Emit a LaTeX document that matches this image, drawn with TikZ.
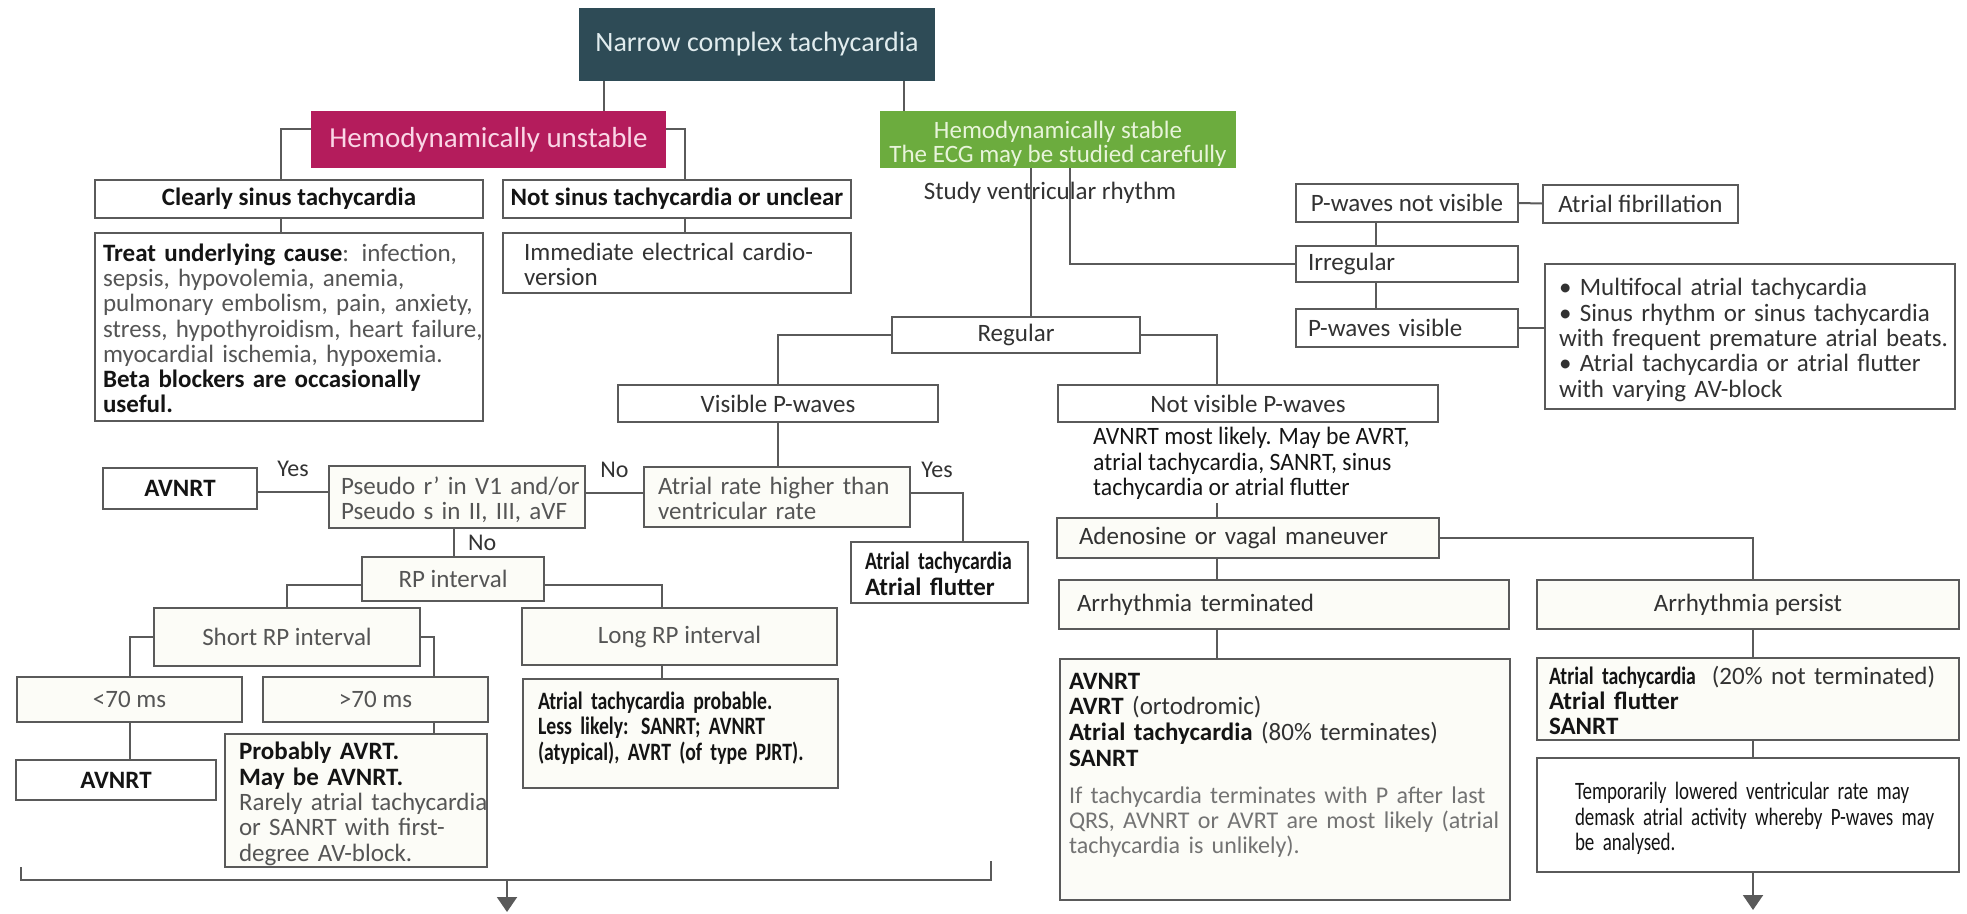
\documentclass[tikz,border=0pt]{standalone}
\usepackage{fontspec}
\setmainfont{Carlito}
\newfontfamily\narrowfont[FakeStretch=0.79]{Carlito}
\newfontfamily\tightfont[FakeStretch=0.76]{Carlito}
\newfontfamily\slimfont[FakeStretch=0.95]{Carlito}
\usetikzlibrary{arrows.meta, positioning, calc}

\definecolor{linegray}{RGB}{90,90,90}
\definecolor{txtblack}{RGB}{20,20,20}
\definecolor{txtdark}{RGB}{50,50,50}
\definecolor{txtgray}{RGB}{85,85,85}
\definecolor{txtlight}{RGB}{115,115,115}
\definecolor{cream}{RGB}{252,252,247}
\definecolor{titlefill}{RGB}{46,75,86}
\definecolor{titletext}{RGB}{225,236,238}
\definecolor{unstfill}{RGB}{180,28,92}
\definecolor{unsttext}{RGB}{250,214,230}
\definecolor{stabfill}{RGB}{108,172,62}
\definecolor{stabtext}{RGB}{232,244,218}

% lines of a box, kept as they are printed
\newcommand{\rows}[1]{\raisebox{-5pt}[\height][\depth]{\begin{tabular}[t]{@{}l@{}}#1\end{tabular}}}
\newcommand{\crows}[1]{\raisebox{-6pt}[\height][\depth]{\begin{tabular}{@{}c@{}}#1\end{tabular}}}
\newcommand{\hl}[1]{\textbf{\color{txtblack}#1}}
\newcommand{\soft}{\color{txtlight}\fontsize{24}{25.3}\selectfont}

\tikzset{
  box/.style={draw=linegray, line width=2pt, fill=white, text=txtdark, inner sep=0pt, align=center},
  lbox/.style={box, align=left, inner ysep=0pt},
  head/.style={inner sep=0pt, align=center},
  link/.style={draw=linegray, line width=2pt},
  arr/.style={link, -{Triangle[width=20pt,length=15pt]}},
  tag/.style={text=txtdark, inner sep=2pt, font=\fontsize{24}{24}\selectfont},
}

\AtBeginDocument{\fontsize{25}{25.3}\selectfont}

\begin{document}
\begin{tikzpicture}[x=1pt, y=-1pt]
  \useasboundingbox (0,0) rectangle (1967,913);

  % top
  \node[head, fill=titlefill, text=titletext, minimum width=356pt, minimum height=73pt,
    font=\fontsize{28}{30}\selectfont] (title) at (757,44.5) {Narrow complex tachycardia};
  \node[head, fill=unstfill, text=unsttext, minimum width=355pt, minimum height=57pt,
    font=\fontsize{29}{30}\selectfont] (unstable) at (488.5,139.5) {Hemodynamically unstable};
  \node[head, fill=stabfill, text=stabtext, minimum width=356pt, minimum height=57pt,
    font=\fontsize{25}{23}\selectfont] (stable) at (1058,139.5)
    {\crows{Hemodynamically stable\\The ECG may be studied carefully}};

  % unstable branch
  \node[box, font=\bfseries, text=txtblack, minimum width=388pt, minimum height=38pt]
    (clearly) at (289,199) {Clearly sinus tachycardia};
  \node[box, font=\bfseries, text=txtblack, minimum width=348pt, minimum height=38pt]
    (notsinus) at (677,199) {Not sinus tachycardia or unclear};
  \node[lbox, text=txtgray, inner xsep=8pt, text width=372pt, minimum height=188pt]
    (treat) at (289,327)
    {\rows{\hl{Treat underlying cause}: infection,\\
     sepsis, hypovolemia, anemia,\\
     pulmonary embolism, pain, anxiety,\\
     stress, hypothyroidism, heart failure,\\
     myocardial ischemia, hypoxemia.\\
     \hl{Beta blockers are occasionally}\\
     \hl{useful.}}};
  \node[lbox, inner xsep=21pt, text width=306pt, minimum height=60pt]
    (immediate) at (677,263) {\rows{Immediate electrical cardio-\\version}};

  % stable branch
  \node[text=txtdark, inner sep=0pt] (study) at (1050,193) {Study ventricular rhythm};
  \node[box, minimum width=222pt, minimum height=38pt] (pnot) at (1407,203) {P-waves not visible};
  \node[box, minimum width=195pt, minimum height=38pt] (afib) at (1640.5,203.5) {Atrial fibrillation};
  \node[lbox, inner xsep=12pt, text width=198pt, minimum height=36pt] (irregular) at (1407,264) {Irregular};
  \node[lbox, inner xsep=12pt, text width=198pt, minimum height=38pt] (pvis) at (1407,328) {P-waves visible};
  \node[lbox, inner xsep=14pt, text width=382pt, minimum height=145pt] (multi) at (1750,336.5)
    {\rows{• Multifocal atrial tachycardia\\
     • Sinus rhythm or sinus tachycardia\\
     with frequent premature atrial beats.\\
     • Atrial tachycardia or atrial flutter\\
     with varying AV-block}};
  \node[box, minimum width=248pt, minimum height=36pt] (regular) at (1016,335) {Regular};
  \node[box, minimum width=320pt, minimum height=37pt] (visp) at (778,403.5) {Visible P-waves};
  \node[box, minimum width=380pt, minimum height=37pt] (notvisp) at (1248,403.5) {Not visible P-waves};
  \node[anchor=north west, text=txtblack, inner sep=0pt, font=\slimfont] (likely) at (1093,427)
    {\begin{tabular}[t]{@{}l@{}}AVNRT most likely. May be AVRT,\\atrial tachycardia, SANRT, sinus\\tachycardia or atrial flutter\end{tabular}};

  % visible P-waves
  \node[lbox, fill=cream, text=txtgray, inner xsep=14pt, text width=238pt, minimum height=60pt]
    (atrate) at (777,497) {\rows{Atrial rate higher than\\ventricular rate}};
  \node[lbox, fill=cream, text=txtgray, inner xsep=12pt, text width=232pt, minimum height=62pt]
    (pseudo) at (457,497) {\rows{Pseudo r’ in V1 and/or\\Pseudo s in II, III, aVF}};
  \node[box, font=\bfseries, text=txtblack, minimum width=154pt, minimum height=41pt]
    (avnrtA) at (180,488.5) {AVNRT};
  \node[lbox, font=\bfseries, text=txtblack, inner xsep=14pt, text width=149pt, minimum height=61pt]
    (atflut) at (939.5,572.5) {\rows{{\narrowfont Atrial tachycardia}\\Atrial flutter}};
  \node[box, fill=cream, text=txtgray, minimum width=182pt, minimum height=44pt] (rpint) at (453,579) {RP interval};
  \node[box, fill=cream, text=txtgray, minimum width=266pt, minimum height=58pt] (shortrp) at (287,637) {Short RP interval};
  \node[box, fill=cream, text=txtgray, minimum width=315pt, minimum height=57pt] (longrp) at (679.5,636.5) {Long RP interval};
  \node[box, fill=cream, text=txtgray, minimum width=225pt, minimum height=45pt] (lt70) at (129.5,699.5) {<70 ms};
  \node[box, fill=cream, text=txtgray, minimum width=225pt, minimum height=45pt] (gt70) at (375.5,699.5) {>70 ms};
  \node[box, font=\bfseries, text=txtblack, minimum width=200pt, minimum height=40pt] (avnrtB) at (116,780) {AVNRT};
  \node[lbox, fill=cream, text=txtgray, inner xsep=14pt, text width=234pt, minimum height=133pt]
    (probably) at (356,800.5)
    {\rows{\hl{Probably AVRT.}\\
     \hl{May be AVNRT.}\\
     Rarely atrial tachycardia\\
     or SANRT with first-\\
     degree AV-block.}};
  \node[lbox, fill=cream, anchor=north west, font=\narrowfont\bfseries, text=txtblack,
    inner xsep=15pt, text width=285pt, text height=25pt, text depth=84pt]
    (atprob) at (522,678)
    {\rows{Atrial tachycardia probable.\\Less likely: SANRT; AVNRT\\(atypical), AVRT (of type PJRT).}};

  % not visible P-waves
  \node[lbox, fill=cream, inner xsep=22pt, text width=338pt, minimum height=40pt]
    (adeno) at (1248,538) {Adenosine or vagal maneuver};
  \node[lbox, fill=cream, inner xsep=18pt, text width=414pt, minimum height=49pt]
    (term) at (1284,604.5) {Arrhythmia terminated};
  \node[box, fill=cream, minimum width=422pt, minimum height=49pt] (persist) at (1748,604.5) {Arrhythmia persist};
  \node[lbox, fill=cream, anchor=north west, inner xsep=9pt, text width=432pt,
    text height=25pt, text depth=216pt] (termres) at (1059,658)
    {\rows{\hl{AVNRT}\\
     \hl{AVRT} (ortodromic)\\
     \hl{Atrial tachycardia} (80\% terminates)\\
     \hl{SANRT}\\[12pt]
     \soft If tachycardia terminates with P after last\\
     \soft QRS, AVNRT or AVRT are most likely (atrial\\
     \soft tachycardia is unlikely).}};
  \node[lbox, fill=cream, inner xsep=12pt, text width=398pt, minimum height=82pt]
    (persres) at (1748,699)
    {\rows{{\narrowfont\hl{Atrial tachycardia}}\hspace{16pt}(20\% not terminated)\\
     \hl{Atrial flutter}\\
     \hl{SANRT}}};
  \node[lbox, font=\tightfont, text=txtblack, inner xsep=38pt, text width=346pt, minimum height=114pt]
    (demask) at (1748,815)
    {\rows{Temporarily lowered ventricular rate may\\demask atrial activity whereby P-waves may\\be analysed.}};

  \coordinate (brL) at (21,867);
  \coordinate (brR) at (991,861);
  \coordinate (brM) at (507,880);
  \coordinate (endL) at (507,912);
  \coordinate (endR) at (1753,910);

  % connectors
  \draw[link] ([xshift=-153pt]title.south) -- ([xshift=-153pt]title.south |- unstable.north);
  \draw[link] ([xshift=147pt]title.south) -- ([xshift=147pt]title.south |- stable.north);
  \draw[link] ([yshift=10.5pt]unstable.west) -| ([xshift=-8pt]clearly.north);
  \draw[link] ([yshift=10.5pt]unstable.east) -| ([xshift=8pt]notsinus.north);
  \draw[link] ([xshift=-8pt]clearly.south) -- ([xshift=-8pt]treat.north);
  \draw[link] ([xshift=8pt]notsinus.south) -- ([xshift=8pt]immediate.north);
  \draw[link] ([xshift=-27pt]stable.south) -- ([xshift=-27pt]stable.south |- regular.north);
  \draw[link] ([xshift=12pt]stable.south) |- (irregular.west);
  \draw[link] (pnot.east) -- (afib.west);
  \draw[link] ([xshift=-31pt]pnot.south) -- ([xshift=-31pt]pnot.south |- irregular.north);
  \draw[link] ([xshift=-31pt]irregular.south) -- ([xshift=-31pt]irregular.south |- pvis.north);
  \draw[link] (pvis.east) -- (pvis.east -| multi.west);
  \draw[link] (regular.west) -| (visp.north);
  \draw[link] (regular.east) -| ([xshift=-31pt]notvisp.north);
  \draw[link] (visp.south) -- (visp.south |- atrate.north);
  \draw[link] ([yshift=4pt]atrate.west) -- ([yshift=4pt]atrate.west -| pseudo.east)
    node[tag, midway, above=12pt] {No};
  \draw[link] ([yshift=5pt]pseudo.west) -- ([yshift=5pt]pseudo.west -| avnrtA.east)
    node[tag, midway, above=12pt] {Yes};
  \draw[link] ([yshift=4pt]atrate.east) -| ([xshift=23.5pt]atflut.north)
    node[tag, pos=0.25, above=12pt] {Yes};
  \draw[link] ([xshift=-3pt]pseudo.south) -- ([xshift=-3pt]pseudo.south |- rpint.north)
    node[tag, midway, right=11pt] {No};
  \draw[link] ([yshift=-6pt]rpint.west) -| (shortrp.north);
  \draw[link] ([yshift=-6pt]rpint.east) -| ([xshift=-17.5pt]longrp.north);
  \draw[link] (shortrp.west) -| (lt70.north);
  \draw[link] (shortrp.east) -| ([xshift=58.5pt]gt70.north);
  \draw[link] (lt70.south) -- (lt70.south |- avnrtB.north);
  \draw[link] ([xshift=58.5pt]gt70.south) -- ([xshift=58.5pt]gt70.south |- probably.north);
  \draw[link] ([xshift=-17.5pt]longrp.south) -- ([xshift=-17.5pt]longrp.south |- atprob.north);
  \draw[link] ([xshift=-31pt]adeno.north) -- ([xshift=-31pt]adeno.north |- likely.south);
  \draw[link] ([xshift=-31pt]adeno.south) -- ([xshift=-31pt]adeno.south |- term.north);
  \draw[link] (adeno.east) -| ([xshift=5pt]persist.north);
  \draw[link] ([xshift=-67pt]term.south) -- ([xshift=-67pt]term.south |- termres.north);
  \draw[link] ([xshift=5pt]persist.south) -- ([xshift=5pt]persist.south |- persres.north);
  \draw[link] ([xshift=5pt]persres.south) -- ([xshift=5pt]persres.south |- demask.north);
  \draw[arr] ([xshift=5pt]demask.south) -- (endR);
  \draw[link] (brL) -- (brL |- brM) -- (brR |- brM) -- (brR);
  \draw[arr] (brM) -- (endL);
\end{tikzpicture}
\end{document}
